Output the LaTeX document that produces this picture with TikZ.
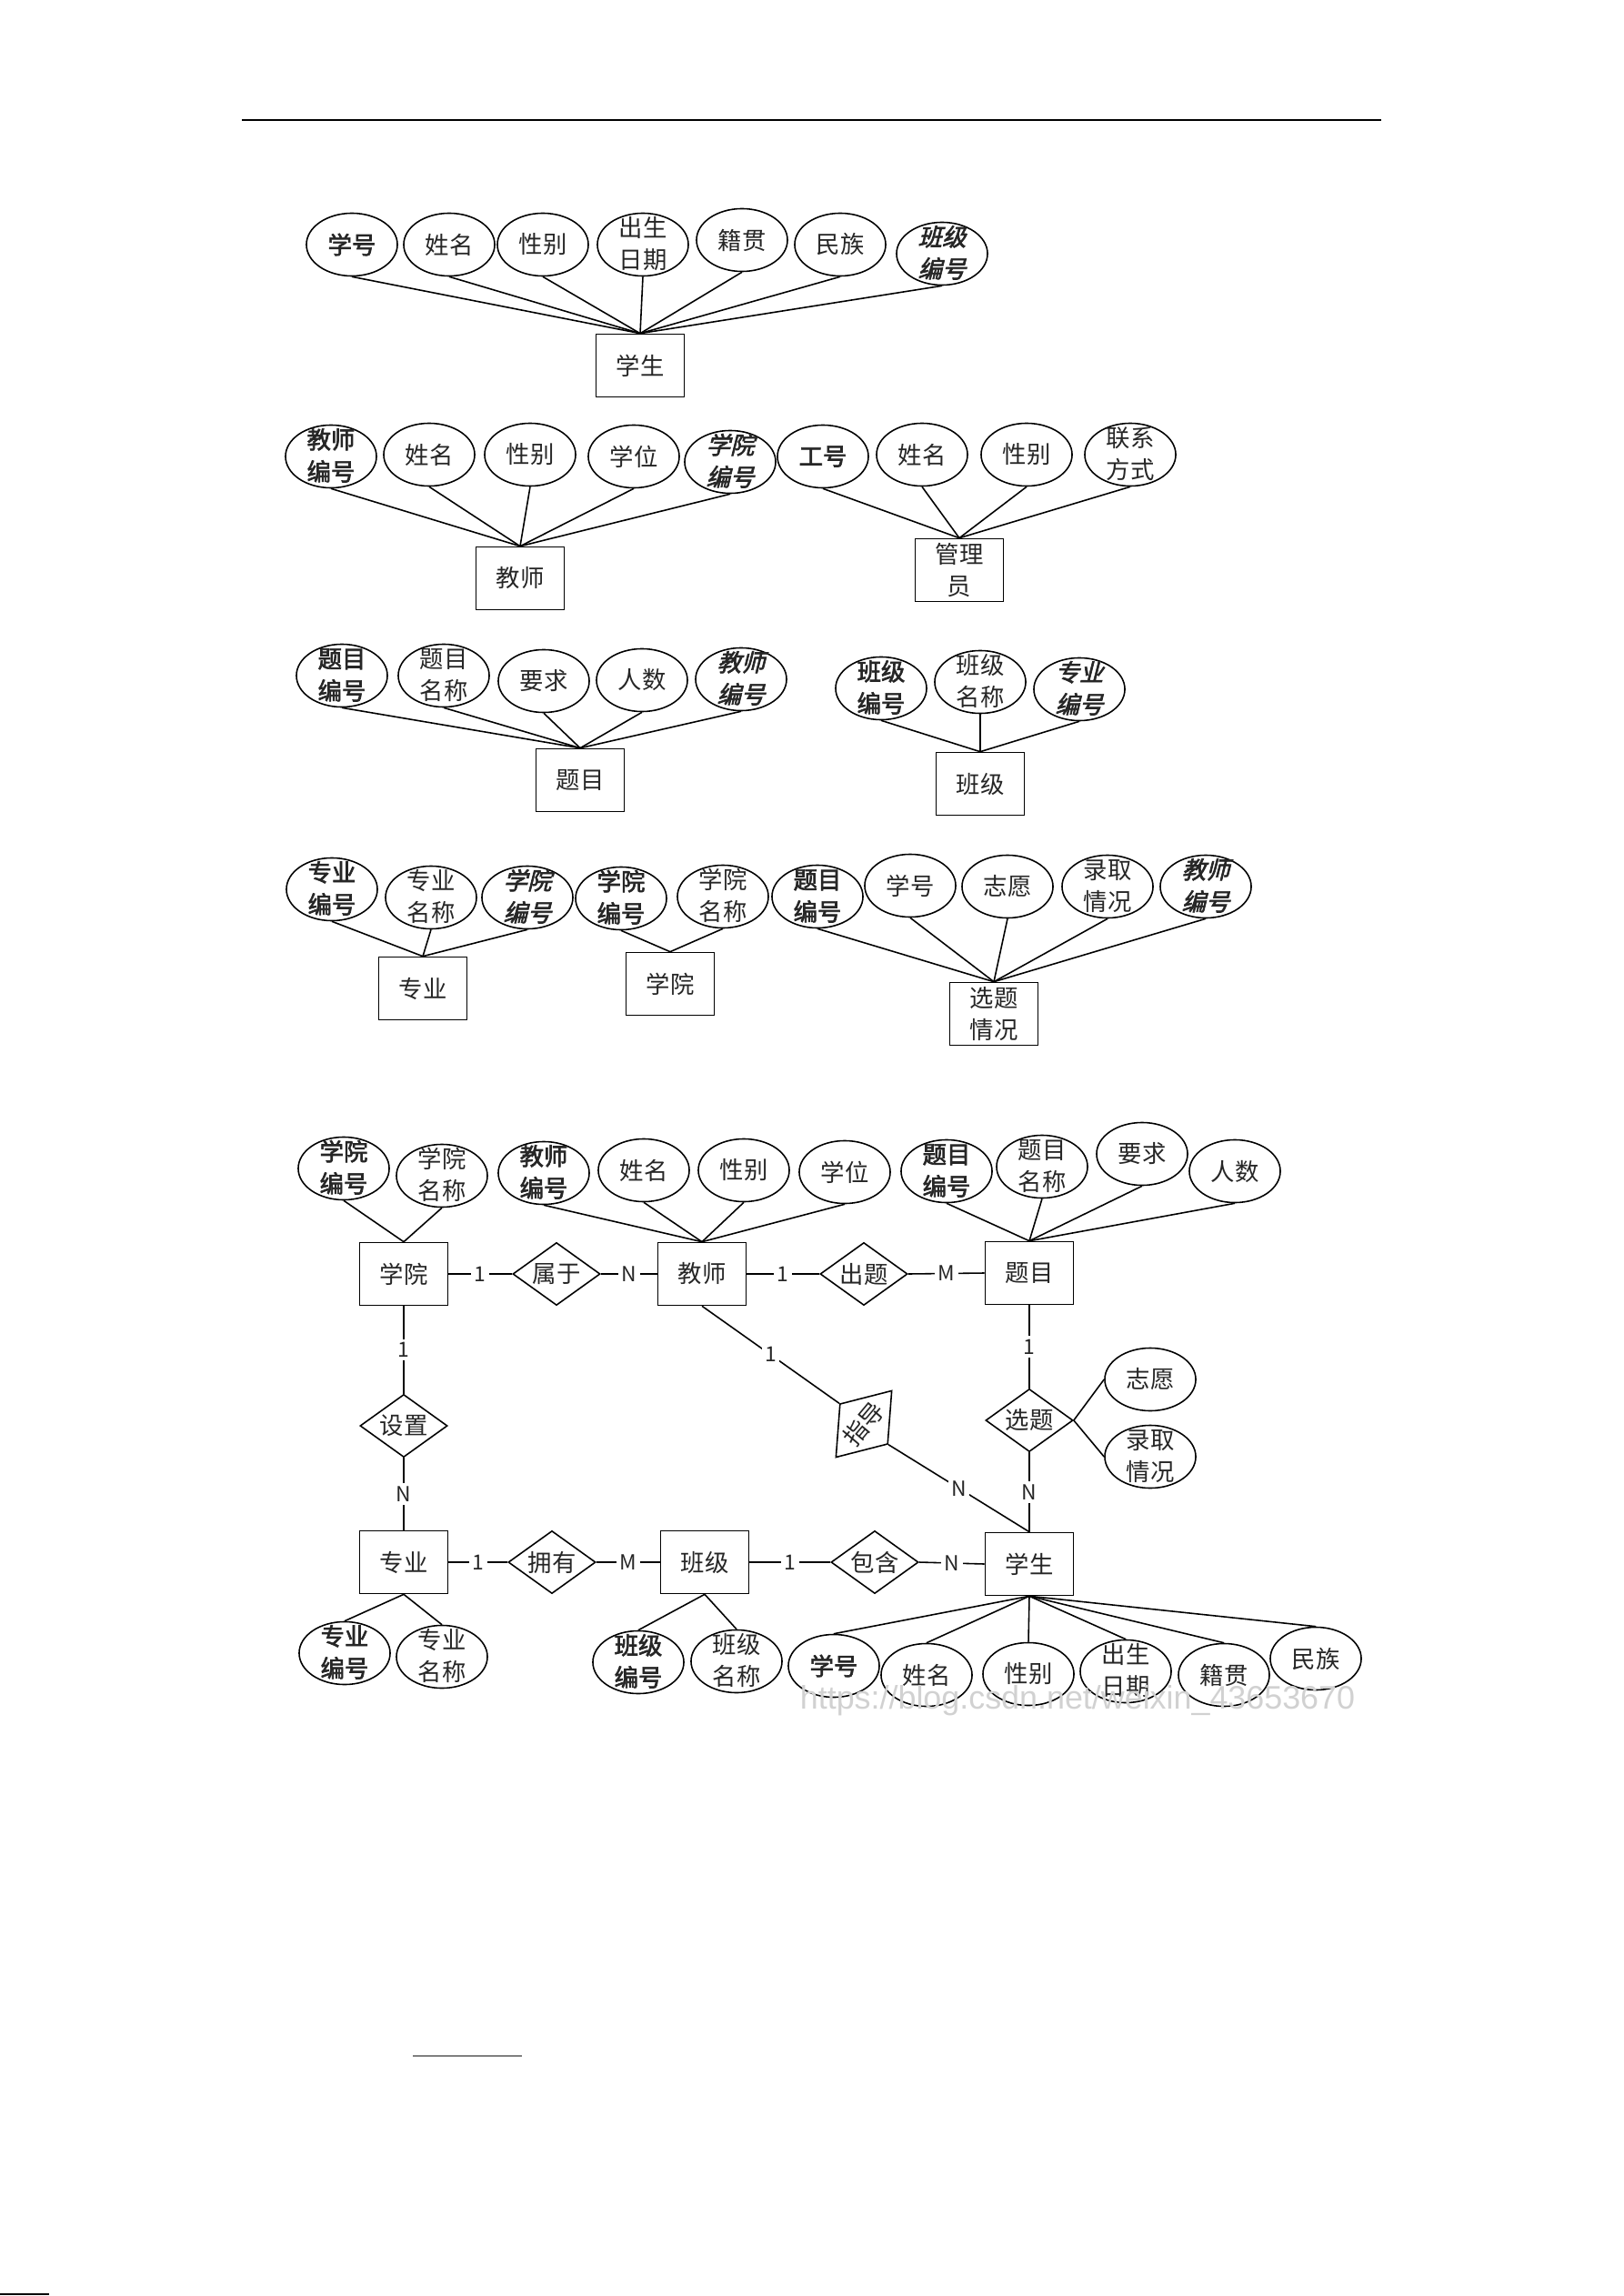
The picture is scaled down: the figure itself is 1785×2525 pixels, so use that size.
\documentclass[tikz,border=0pt]{standalone}
\usepackage{fontspec}
\setmainfont{Noto Sans CJK SC}[AutoFakeBold=2.5,AutoFakeSlant=0.25]
\newfontfamily\wmfont{Liberation Sans}
\usepackage{tikz}
\usetikzlibrary{shapes, positioning}
\newcommand{\dl}[2]{\raisebox{-0.08cm}[0pt][0pt]{\begin{tabular}{@{}c@{}}#1\\#2\end{tabular}}}

\begin{document}
\begin{tikzpicture}[x=0.01cm, y=-0.01cm, line width=0.45pt,
	every node/.style={font=\fontsize{7.5}{10}\selectfont, text=black!85},
	ent/.style={draw, rectangle, inner sep=0pt, minimum width=0.97cm, minimum height=0.69cm, align=center},
	attr/.style={draw, ellipse, inner sep=0pt, minimum width=1cm, minimum height=0.69cm},
	pk/.style={attr, font=\fontsize{7.5}{10}\selectfont\bfseries},
	fk/.style={attr, font=\fontsize{7.5}{10}\selectfont\bfseries\itshape},
	rel/.style={draw, diamond, aspect=1.4, inner sep=0pt, minimum width=0.96cm, minimum height=0.69cm},
	card/.style={fill=white, inner sep=1pt, font=\fontsize{6.5}{8}\selectfont}]
	\useasboundingbox (0,0) rectangle (1785,2525);
	\draw[line width=0.7pt] (266,132) -- (1519,132);
	
	% 学生
	\node[ent] (xs) at (704,402) {学生};
	\node[pk] (xs1) at (387,269) {学号};
	\node[attr] (xs2) at (494,269) {姓名};
	\node[attr] (xs3) at (597,269) {性别};
	\node[attr] (xs4) at (707,269) {\dl{出生}{日期}};
	\node[attr] (xs5) at (816,264) {籍贯};
	\node[attr] (xs6) at (924,269) {民族};
	\node[fk] (xs7) at (1036,279) {\dl{班级}{编号}};
	\draw (xs1.south) -- (xs.north);
	\draw (xs2.south) -- (xs.north);
	\draw (xs3.south) -- (xs.north);
	\draw (xs4.south) -- (xs.north);
	\draw (xs5.south) -- (xs.north);
	\draw (xs6.south) -- (xs.north);
	\draw (xs7.south) -- (xs.north);
	
	% 教师
	\node[ent] (js) at (572,636) {教师};
	\node[pk] (js1) at (364,502) {\dl{教师}{编号}};
	\node[attr] (js2) at (472,500) {姓名};
	\node[attr] (js3) at (583,500) {性别};
	\node[attr] (js4) at (697,502) {学位};
	\node[fk] (js5) at (803,508) {\dl{学院}{编号}};
	\draw (js1.south) -- (js.north);
	\draw (js2.south) -- (js.north);
	\draw (js3.south) -- (js.north);
	\draw (js4.south) -- (js.north);
	\draw (js5.south) -- (js.north);
	
	% 管理员
	\node[ent] (gl) at (1055,627) {管理\\员};
	\node[pk] (gl1) at (905,502) {工号};
	\node[attr] (gl2) at (1014,500) {姓名};
	\node[attr] (gl3) at (1129,500) {性别};
	\node[attr] (gl4) at (1243,500) {\dl{联系}{方式}};
	\draw (gl1.south) -- (gl.north);
	\draw (gl2.south) -- (gl.north);
	\draw (gl3.south) -- (gl.north);
	\draw (gl4.south) -- (gl.north);
	
	% 题目
	\node[ent] (tm) at (638,858) {题目};
	\node[pk] (tm1) at (376,743) {\dl{题目}{编号}};
	\node[attr] (tm2) at (488,743) {\dl{题目}{名称}};
	\node[attr] (tm3) at (598,749) {要求};
	\node[attr] (tm4) at (706,748) {人数};
	\node[fk] (tm5) at (815,747) {\dl{教师}{编号}};
	\draw (tm1.south) -- (tm.north);
	\draw (tm2.south) -- (tm.north);
	\draw (tm3.south) -- (tm.north);
	\draw (tm4.south) -- (tm.north);
	\draw (tm5.south) -- (tm.north);
	
	% 班级
	\node[ent] (bj) at (1078,862) {班级};
	\node[pk] (bj1) at (969,757) {\dl{班级}{编号}};
	\node[attr] (bj2) at (1078,750) {\dl{班级}{名称}};
	\node[fk] (bj3) at (1187,758) {\dl{专业}{编号}};
	\draw (bj1.south) -- (bj.north);
	\draw (bj2.south) -- (bj.north);
	\draw (bj3.south) -- (bj.north);
	
	% 专业
	\node[ent] (zy) at (465,1087) {专业};
	\node[pk] (zy1) at (365,978) {\dl{专业}{编号}};
	\node[attr] (zy2) at (474,987) {\dl{专业}{名称}};
	\node[fk] (zy3) at (580,987) {\dl{学院}{编号}};
	\draw (zy1.south) -- (zy.north);
	\draw (zy2.south) -- (zy.north);
	\draw (zy3.south) -- (zy.north);
	
	% 学院
	\node[ent] (xy) at (737,1082) {学院};
	\node[pk] (xy1) at (683,988) {\dl{学院}{编号}};
	\node[attr] (xy2) at (795,986) {\dl{学院}{名称}};
	\draw (xy1.south) -- (xy.north);
	\draw (xy2.south) -- (xy.north);
	
	% 选题情况
	\node[ent] (xt) at (1093,1115) {选题\\情况};
	\node[pk] (xt1) at (899,986) {\dl{题目}{编号}};
	\node[attr] (xt2) at (1001,974) {学号};
	\node[attr] (xt3) at (1108,975) {志愿};
	\node[attr] (xt4) at (1218,975) {\dl{录取}{情况}};
	\node[fk] (xt5) at (1326,975) {\dl{教师}{编号}};
	\draw (xt1.south) -- (xt.north);
	\draw (xt2.south) -- (xt.north);
	\draw (xt3.south) -- (xt.north);
	\draw (xt4.south) -- (xt.north);
	\draw (xt5.south) -- (xt.north);
	
	% E-R
	\node[ent] (erxy) at (444,1401) {学院};
	\node[ent] (erjs) at (772,1401) {教师};
	\node[ent] (ertm) at (1132,1400) {题目};
	\node[ent] (erzy) at (444,1718) {专业};
	\node[ent] (erbj) at (775,1718) {班级};
	\node[ent] (erxs) at (1132,1720) {学生};
	
	\node[rel] (rsy) at (612,1401) {属于};
	\node[rel] (rct) at (950,1401) {出题};
	\node[rel] (rsz) at (444,1568) {设置};
	\node[rel, rotate=50] (rzd) at (950,1566) {指导};
	\node[rel] (rxt) at (1132,1562) {选题};
	\node[rel] (ryy) at (607,1718) {拥有};
	\node[rel] (rbh) at (962,1718) {包含};
	
	\node[pk] (erxy1) at (378,1285) {\dl{学院}{编号}};
	\node[attr] (erxy2) at (486,1293) {\dl{学院}{名称}};
	\node[pk] (erjs1) at (598,1290) {\dl{教师}{编号}};
	\node[attr] (erjs2) at (708,1287) {姓名};
	\node[attr] (erjs3) at (818,1287) {性别};
	\node[attr] (erjs4) at (929,1289) {学位};
	\node[pk] (ertm1) at (1041,1288) {\dl{题目}{编号}};
	\node[attr] (ertm2) at (1146,1283) {\dl{题目}{名称}};
	\node[attr] (ertm3) at (1256,1269) {要求};
	\node[attr] (ertm4) at (1358,1288) {人数};
	\node[attr] (erxt1) at (1265,1517) {志愿};
	\node[attr] (erxt2) at (1265,1602) {\dl{录取}{情况}};
	\node[pk] (erzy1) at (379,1818) {\dl{专业}{编号}};
	\node[attr] (erzy2) at (486,1822) {\dl{专业}{名称}};
	\node[pk] (erbj1) at (702,1828) {\dl{班级}{编号}};
	\node[attr] (erbj2) at (810,1827) {\dl{班级}{名称}};
	\node[pk] (erxs1) at (917,1832) {学号};
	\node[attr] (erxs2) at (1019,1842) {姓名};
	\node[attr] (erxs3) at (1131,1841) {性别};
	\node[attr] (erxs4) at (1238,1838) {\dl{出生}{日期}};
	\node[attr] (erxs5) at (1346,1842) {籍贯};
	\node[attr] (erxs6) at (1447,1824) {民族};
	
	\draw (erxy1.south) -- (erxy.north);
	\draw (erxy2.south) -- (erxy.north);
	\draw (erjs1.south) -- (erjs.north);
	\draw (erjs2.south) -- (erjs.north);
	\draw (erjs3.south) -- (erjs.north);
	\draw (erjs4.south) -- (erjs.north);
	\draw (ertm1.south) -- (ertm.north);
	\draw (ertm2.south) -- (ertm.north);
	\draw (ertm3.south) -- (ertm.north);
	\draw (ertm4.south) -- (ertm.north);
	\draw (rxt.east) -- (erxt1.west);
	\draw (rxt.east) -- (erxt2.west);
	\draw (erzy.south) -- (erzy1.north);
	\draw (erzy.south) -- (erzy2.north);
	\draw (erbj.south) -- (erbj1.north);
	\draw (erbj.south) -- (erbj2.north);
	\draw (erxs.south) -- (erxs1.north);
	\draw (erxs.south) -- (erxs2.north);
	\draw (erxs.south) -- (erxs3.north);
	\draw (erxs.south) -- (erxs4.north);
	\draw (erxs.south) -- (erxs5.north);
	\draw (erxs.south) -- (erxs6.north);
	
	\draw (erxy.east) -- node[card] {1} (rsy.west);
	\draw (rsy.east) -- node[card] {N} (erjs.west);
	\draw (erjs.east) -- node[card] {1} (rct.west);
	\draw (rct.east) -- node[card] {M} (ertm.west);
	\draw (erxy.south) -- node[card] {1} (rsz.north);
	\draw (rsz.south) -- node[card] {N} (erzy.north);
	\draw (erjs.south) -- node[card] {1} (rzd.north);
	\draw (rzd.south) -- node[card] {N} (erxs.north);
	\draw (ertm.south) -- node[card] {1} (rxt.north);
	\draw (rxt.south) -- node[card] {N} (erxs.north);
	\draw (erzy.east) -- node[card] {1} (ryy.west);
	\draw (ryy.east) -- node[card] {M} (erbj.west);
	\draw (erbj.east) -- node[card] {1} (rbh.west);
	\draw (rbh.east) -- node[card] {N} (erxs.west);
	
	\node[text=black!18, font=\wmfont\fontsize{10.2}{12}\selectfont] (wm) at (1185,1870) {https://blog.csdn.net/weixin\_43653670};
	
	\draw[gray] (454,2261) -- (574,2261);
	\draw (0,2523) -- (54,2523);
\end{tikzpicture}
\end{document}
